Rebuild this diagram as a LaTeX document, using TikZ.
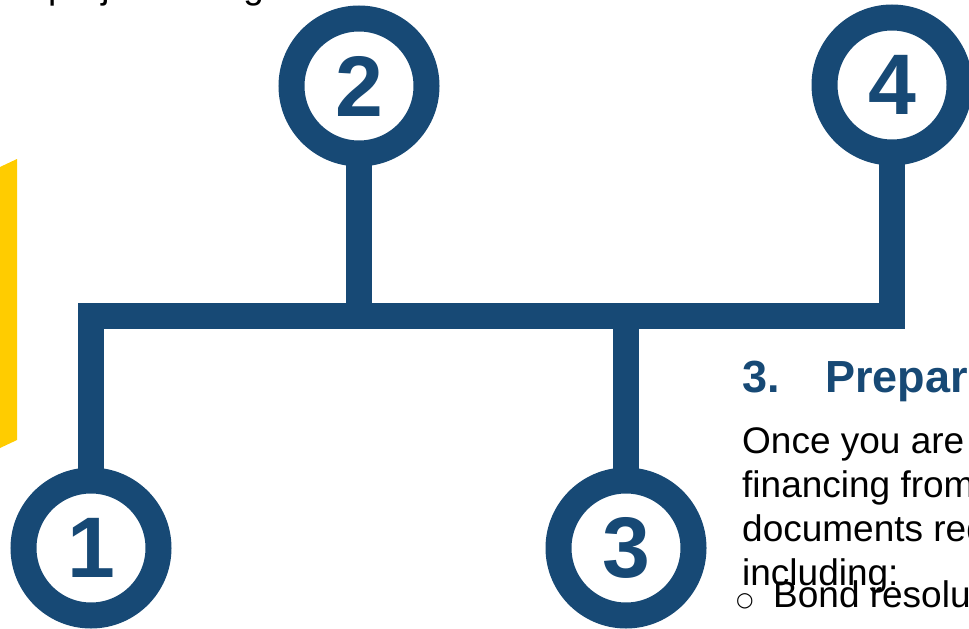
\documentclass[tikz,border=0pt]{standalone}
\usepackage{fontspec}
\setmainfont{Liberation Sans}
\newfontfamily\symfont{DejaVu Sans}
\definecolor{navy}{RGB}{23,73,117}
\definecolor{gold}{RGB}{255,204,0}
\tikzset{
  ring/.style={circle, draw=navy, line width=26pt, minimum size=135pt, inner sep=0pt, outer sep=0pt,
    text=navy, font=\fontsize{86}{86}\selectfont\bfseries},
  conn/.style={draw=navy, line width=26pt, line join=miter, line cap=butt},
  body/.style={anchor=base west, inner sep=0pt, text=black, font=\fontsize{37}{44}\selectfont},
  head/.style={anchor=base west, inner sep=0pt, text=navy, font=\fontsize{45}{54}\selectfont\bfseries}
}
\begin{document}
\begin{tikzpicture}[x=1pt, y=-1pt]
  \useasboundingbox (0,0) rectangle (969,629);
  \clip (0,0) rectangle (969,629);
  % yellow accent bar
  \fill[gold] (0,167) -- (17,159) -- (17,440) -- (0,448) -- cycle;
  % cut-off text at the top
  \node[body] (toptext) at (17,-1.5) {a project is eligible for};
  % numbered rings
  \node[ring] (c1) at (91,548) {1};
  \node[ring] (c2) at (359,86) {2};
  \node[ring] (c3) at (626,548) {3};
  \node[ring] (c4) at (892,85) {4};
  % connectors
  \coordinate (bar) at (0,316);
  \draw[conn] (c1.north) -- (c1.north |- bar) -- (c4.south |- bar) -- (c4.south);
  \draw[conn] (c2.south) -- (c2.south |- bar);
  \draw[conn] (c3.north) -- (c3.north |- bar);
  % step 3 text
  \node[head] (h3n) at (742,392) {3.};
  \node[head] (h3t) at (825,392) {Preparing Documents};
  \node[body] (l1) at (742,453) {Once you are approved for};
  \node[body] (l2) at (742,497) {financing from the lender,};
  \node[body] (l3) at (742,541) {documents required,};
  \node[body] (l4) at (742,585) {including:};
  \node[anchor=base west, inner sep=0pt, font=\symfont\fontsize{20}{24}\selectfont] (bul) at (736,606) {○};
  \node[body] (l5) at (773,607) {Bond resolution};
\end{tikzpicture}
\end{document}
